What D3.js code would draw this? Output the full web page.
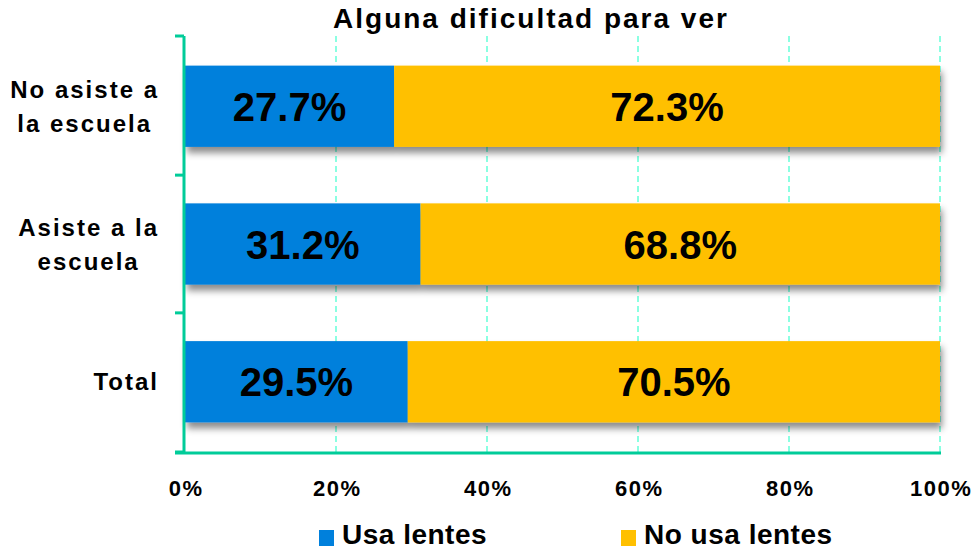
<!DOCTYPE html>
<html>
<head>
<meta charset="utf-8">
<script src="https://cdn.jsdelivr.net/npm/d3@7"></script>
<style>
  body { margin: 0; background: #fff; }
  svg { display: block; font-family: Arial, "Liberation Sans", sans-serif; }
</style>
</head>
<body>
<svg id="chart" width="973" height="549"></svg>
<script>
// Categories, top to bottom; each label may wrap to two lines
const categories = ["No asiste a la escuela", "Asiste a la escuela", "Total"];
const categoryLines = [["No asiste a", "la escuela"], ["Asiste a la", "escuela"], ["Total"]];
const usaLentes = [27.7, 31.2, 29.5];
const noUsaLentes = [72.3, 68.8, 70.5];
const seriesNames = ["Usa lentes", "No usa lentes"];
const xTicks = [0, 20, 40, 60, 80, 100];

const colors = ["#0080DC", "#FFC000"];
const axisColor = "#00CC99";
const gridColor = "#66FFD9";

const svg = d3.select("#chart");
const plotLeft = 185, plotRight = 940, plotTop = 36, plotBottom = 452;

const x = d3.scaleLinear().domain([0, 100]).range([plotLeft, plotRight]);
const y = d3.scaleBand().domain(categories).range([plotTop, plotBottom]).paddingInner(0.41).paddingOuter(0.215);

// Drop shadow under the bars
const defs = svg.append("defs");
const f = defs.append("filter").attr("id", "shadow").attr("x", "-5%").attr("y", "-20%").attr("width", "115%").attr("height", "170%");
f.append("feDropShadow").attr("dx", 2).attr("dy", 6).attr("stdDeviation", 3.5)
  .attr("flood-color", "#000").attr("flood-opacity", 0.45);

// Title
svg.append("text").attr("x", 531).attr("y", 28).attr("text-anchor", "middle")
  .attr("font-size", 28).attr("font-weight", "bold").attr("letter-spacing", 2).attr("fill", "#000")
  .text("Alguna dificultad para ver");

// Dashed vertical gridlines
svg.append("g").selectAll("line").data(xTicks.filter(d => d > 0)).join("line")
  .attr("x1", d => x(d)).attr("x2", d => x(d))
  .attr("y1", plotTop).attr("y2", plotBottom)
  .attr("stroke", gridColor).attr("stroke-width", 1.5).attr("stroke-dasharray", "6,4");

// Stacked bars
const rows = categories.map((c, i) => ({ cat: c, vals: [usaLentes[i], noUsaLentes[i]] }));
const stack = d3.stack().keys([0, 1]).value((d, k) => d.vals[k]);
const stacked = stack(rows);

const barG = svg.append("g").attr("filter", "url(#shadow)");
stacked.forEach((layer, k) => {
  barG.selectAll(null).data(layer).join("rect")
    .attr("x", d => x(d[0])).attr("width", d => x(d[1]) - x(d[0]))
    .attr("y", d => y(d.data.cat)).attr("height", y.bandwidth())
    .attr("fill", colors[k]);
});

// Value labels centred in each segment
stacked.forEach((layer, k) => {
  svg.append("g").selectAll("text").data(layer).join("text")
    .attr("x", d => (x(d[0]) + x(d[1])) / 2)
    .attr("y", d => y(d.data.cat) + y.bandwidth() / 2 + 14.5)
    .attr("text-anchor", "middle").attr("font-size", 40).attr("font-weight", "bold").attr("fill", "#000")
    .text(d => d.data.vals[k].toFixed(1) + "%");
});

// Axes
svg.append("line").attr("x1", plotLeft - 1).attr("x2", plotLeft - 1).attr("y1", plotTop).attr("y2", plotBottom + 1)
  .attr("stroke", axisColor).attr("stroke-width", 3);
svg.append("line").attr("x1", 175).attr("x2", plotRight + 1).attr("y1", plotBottom + 1).attr("y2", plotBottom + 1)
  .attr("stroke", axisColor).attr("stroke-width", 3);
// category boundary ticks on the vertical axis
const bounds = [plotTop, ...categories.slice(1).map(c => y(c) - y.step() * y.paddingInner() / 2), plotBottom];
svg.append("g").selectAll("line").data(bounds).join("line")
  .attr("x1", 175).attr("x2", plotLeft - 1).attr("y1", d => d).attr("y2", d => d)
  .attr("stroke", axisColor).attr("stroke-width", 3);

// X tick labels
const xAxis = d3.axisBottom(x).tickValues(xTicks).tickSize(0).tickPadding(28).tickFormat(d => d + "%");
const xg = svg.append("g").attr("transform", `translate(0,${plotBottom})`).call(xAxis);
xg.select(".domain").remove();
xg.selectAll("text").attr("font-size", 22).attr("font-weight", "bold").attr("fill", "#000")
  .attr("letter-spacing", 1.5).attr("dx", 0.75)
  .attr("font-family", "Arial, 'Liberation Sans', sans-serif");

// Category labels: lines centred within a block that ends at x=158
const labelRight = 158;
categories.forEach((c, i) => {
  const lines = categoryLines[i];
  const t = svg.append("text").attr("font-size", 24).attr("font-weight", "bold").attr("fill", "#000")
    .attr("letter-spacing", 2).attr("text-anchor", "middle");
  const cy = y(c) + y.bandwidth() / 2;
  const lh = 34;
  const y0 = cy - (lines.length - 1) * lh / 2 + 8.5;
  lines.forEach((ln, j) => t.append("tspan").attr("y", y0 + j * lh).text(ln));
  const widths = t.selectAll("tspan").nodes().map(n => n.getComputedTextLength());
  const w = d3.max(widths);
  t.selectAll("tspan").attr("x", labelRight - w / 2 + 1);
});

// Legend
const legendItems = [{ x: 319, name: seriesNames[0], c: colors[0] }, { x: 621, name: seriesNames[1], c: colors[1] }];
const lg = svg.append("g");
legendItems.forEach(d => {
  lg.append("rect").attr("x", d.x).attr("y", 530).attr("width", 15).attr("height", 16).attr("fill", d.c);
  lg.append("text").attr("x", d.x + 23).attr("y", 544).attr("font-size", 28).attr("font-weight", "bold")
    .attr("letter-spacing", 0.5).attr("fill", "#000").text(d.name);
});
</script>
</body>
</html>
